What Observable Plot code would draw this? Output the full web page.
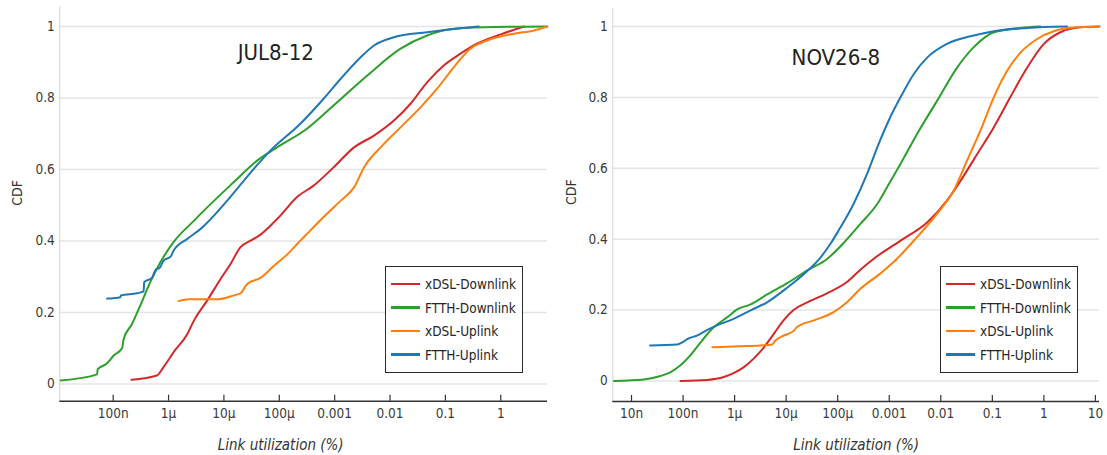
<!DOCTYPE html>
<html>
<head>
<meta charset="utf-8">
<script src="https://cdn.jsdelivr.net/npm/d3@7"></script>
<script src="https://cdn.jsdelivr.net/npm/@observablehq/plot@0.6"></script>
<style>
  body { margin: 0; background: #fff; }
  #wrap { position: relative; width: 1107px; height: 455px; overflow: hidden;
          font-family: "DejaVu Sans Condensed", "DejaVu Sans", sans-serif; font-stretch: condensed; }
  .panel { position: absolute; top: 0; }
  .legend { position: absolute; top: 266px; width: 138px; height: 107px; box-sizing: border-box;
            border: 1.5px solid #2a2a2a; background: #fff; }
  .legend .row { position: absolute; left: 5px; display: flex; align-items: center;
                 transform: translateY(-50%); font-size: 13.5px; color: #262626; white-space: nowrap; }
  .legend .swatch { display: inline-block; width: 29px; height: 2.5px; margin-right: 5px; }
</style>
</head>
<body>
<div id="wrap"></div>
<script>
// Series names and colours (legend order)
const seriesNames = ["xDSL-Downlink", "FTTH-Downlink", "xDSL-Uplink", "FTTH-Uplink"];
const seriesColors = ["#d62728", "#2ca02c", "#ff7f0e", "#1f77b4"];

// Axis ticks
const yTicks = [0, 0.2, 0.4, 0.6, 0.8, 1];
const yTickLabels = ["0", "0.2", "0.4", "0.6", "0.8", "1"];
const julTicks = [1e-7, 1e-6, 1e-5, 1e-4, 1e-3, 1e-2, 1e-1, 1];
const julTickLabels = ["100n", "1μ", "10μ", "100μ", "0.001", "0.01", "0.1", "1"];
const novTicks = [1e-8, 1e-7, 1e-6, 1e-5, 1e-4, 1e-3, 1e-2, 1e-1, 1, 10];
const novTickLabels = ["10n", "100n", "1μ", "10μ", "100μ", "0.001", "0.01", "0.1", "1", "10"];

// x extents, as log10 of link utilisation (%)
const julDomainLog = [-7.964, 0.844];
const novDomainLog = [-8.363, 1.079];

// JUL8-12: CDF points, x stored as log10 of link utilisation (%)
const julXdslDownLog = [-6.67,-6.21,-6.10,-5.97,-5.91,-5.66,-5.54,-5.30,-5.06,-4.88,-4.70,-4.52,-4.34,-4.16,-3.98,-3.68,-3.38,-3.02,-2.65,-2.29,-1.93,-1.63,-1.33,-1.03,-0.73,-0.43,0.0,0.42];
const julXdslDownCdf = [0.012,0.024,0.045,0.075,0.089,0.140,0.178,0.234,0.294,0.336,0.383,0.401,0.418,0.443,0.471,0.523,0.555,0.606,0.662,0.695,0.737,0.784,0.844,0.891,0.924,0.952,0.978,1.0];

const julFtthDownLog = [-7.95,-7.29,-7.28,-7.11,-6.99,-6.84,-6.81,-6.66,-6.51,-6.33,-6.15,-5.91,-5.54,-5.42,-4.82,-4.40,-4.04,-3.50,-3.02,-2.41,-1.81,-1.33,-0.97,-0.31,0.84];
const julFtthDownCdf = [0.010,0.027,0.041,0.058,0.080,0.100,0.126,0.168,0.220,0.285,0.340,0.397,0.457,0.476,0.565,0.625,0.662,0.714,0.779,0.863,0.938,0.975,0.991,0.998,1.0];

const julXdslUpLog = [-5.82,-5.63,-5.12,-4.82,-4.70,-4.58,-4.34,-4.10,-3.86,-3.62,-3.50,-3.20,-2.89,-2.65,-2.47,-2.14,-1.81,-1.45,-1.15,-0.85,-0.55,-0.25,0.24,0.60,0.84];
const julXdslUpCdf = [0.232,0.237,0.237,0.248,0.254,0.280,0.297,0.330,0.362,0.401,0.420,0.467,0.513,0.550,0.606,0.667,0.718,0.774,0.826,0.886,0.938,0.961,0.980,0.989,1.0];

const julFtthUpLog = [-7.11,-6.87,-6.86,-6.57,-6.45,-6.44,-6.30,-6.24,-6.15,-6.09,-5.96,-5.91,-5.66,-5.42,-4.94,-4.46,-4.16,-3.62,-3.20,-2.89,-2.53,-2.29,-1.93,-1.33,-0.97,-0.40];
const julFtthUpCdf = [0.239,0.243,0.248,0.254,0.259,0.285,0.297,0.318,0.327,0.345,0.357,0.373,0.406,0.434,0.513,0.602,0.653,0.728,0.798,0.854,0.914,0.947,0.970,0.984,0.991,1.0];

// NOV26-8
const novXdslDownLog = [-7.05,-6.53,-6.21,-6.02,-5.82,-5.63,-5.43,-5.24,-5.05,-4.85,-4.59,-4.20,-3.82,-3.56,-3.30,-2.78,-2.26,-1.88,-1.55,-1.29,-0.97,-0.65,-0.32,0.0,0.32,0.71,1.08];
const novXdslDownCdf = [0.0,0.003,0.011,0.022,0.039,0.063,0.095,0.133,0.171,0.201,0.222,0.248,0.279,0.314,0.345,0.396,0.448,0.509,0.580,0.641,0.716,0.801,0.885,0.951,0.984,0.998,1.0];

const novFtthDownLog = [-8.34,-7.76,-7.44,-7.24,-7.05,-6.86,-6.66,-6.40,-6.14,-5.95,-5.69,-5.37,-4.98,-4.59,-4.20,-3.90,-3.56,-3.23,-3.04,-2.78,-2.46,-2.07,-1.68,-1.36,-0.97,-0.45,-0.07];
const novFtthDownCdf = [0.0,0.004,0.014,0.025,0.044,0.072,0.109,0.152,0.180,0.202,0.216,0.244,0.276,0.312,0.345,0.387,0.443,0.500,0.547,0.613,0.697,0.791,0.885,0.942,0.984,0.996,1.0];

const novXdslUpLog = [-6.43,-5.89,-5.50,-5.27,-5.21,-5.08,-4.85,-4.79,-4.46,-4.08,-3.82,-3.56,-3.20,-2.85,-2.46,-2.07,-1.75,-1.49,-1.23,-0.97,-0.71,-0.45,-0.13,0.19,0.65,1.07];
const novXdslUpCdf = [0.095,0.098,0.100,0.103,0.114,0.126,0.142,0.152,0.171,0.194,0.222,0.260,0.300,0.345,0.406,0.472,0.537,0.622,0.707,0.801,0.876,0.927,0.965,0.987,0.998,1.0];

const novFtthUpLog = [-7.64,-7.11,-6.99,-6.91,-6.73,-6.53,-6.34,-6.02,-5.69,-5.37,-4.98,-4.59,-4.33,-4.14,-3.98,-3.69,-3.43,-3.23,-3.01,-2.78,-2.52,-2.26,-1.88,-1.36,-0.97,-0.32,0.45];
const novFtthUpCdf = [0.100,0.103,0.111,0.119,0.128,0.144,0.157,0.175,0.199,0.222,0.263,0.310,0.349,0.387,0.425,0.500,0.584,0.660,0.735,0.801,0.867,0.913,0.951,0.975,0.987,0.996,1.0];

const FONT = "'DejaVu Sans Condensed', 'DejaVu Sans', sans-serif";

function toRows(pairs) {
  return pairs.flatMap(([name, logs, cdf]) =>
    logs.map((lx, i) => ({ name, x: Math.pow(10, lx), y: cdf[i] })));
}

function panel(cfg) {
  const H = 455;
  const plotH = H - cfg.mt - cfg.mb;
  const xDomain = cfg.domainLog.map(v => Math.pow(10, v));
  const labelOf = new Map(cfg.ticks.map((t, i) => [t, cfg.tickLabels[i]]));
  const yLabelOf = new Map(yTicks.map((t, i) => [t, yTickLabels[i]]));
  const rows = toRows(cfg.series);
  return Plot.plot({
    width: cfg.width, height: H,
    marginLeft: cfg.ml, marginRight: cfg.mr, marginTop: cfg.mt, marginBottom: cfg.mb,
    style: { fontFamily: FONT, fontSize: "13px", color: "#3a3a3a", background: "transparent", overflow: "visible" },
    x: { type: "log", domain: xDomain, axis: null },
    y: { domain: cfg.yDomain, axis: null },
    color: { domain: seriesNames, range: seriesColors },
    marks: [
      Plot.ruleY(yTicks, { stroke: "#e4e4e4", strokeWidth: 1.6 }),
      Plot.ruleX([xDomain[0]], { stroke: "#d4d4d4", strokeWidth: 1 }),
      Plot.ruleY([cfg.yDomain[0]], { stroke: "#333", strokeWidth: 1.5 }),
      Plot.ruleX(cfg.ticks, { insetTop: plotH - 6, stroke: "#333", strokeWidth: 1.2 }),
      Plot.axisX(cfg.ticks, { tickSize: 0, tickPadding: 7, tickFormat: d => labelOf.get(d), label: null, fontSize: 13.5 }),
      Plot.axisY(yTicks, { tickSize: 0, tickPadding: 5, tickFormat: d => yLabelOf.get(d), label: null, fontSize: 13.5 }),
      Plot.line(rows, { x: "x", y: "y", z: "name", stroke: "name", strokeWidth: 2, curve: "monotone-x" }),
      Plot.text([cfg.title], { frameAnchor: "top-left", dx: cfg.titleDx, dy: cfg.titleDy, fontSize: 22, fill: "#222", lineAnchor: "middle", textAnchor: "middle" }),
      Plot.text(["Link utilization (%)"], { frameAnchor: "bottom", dx: cfg.xLabelDx, dy: 44, fontSize: 15, fontStyle: "italic", fontFamily: "'DejaVu Sans', sans-serif", fill: "#333", lineAnchor: "middle" }),
      Plot.text(["CDF"], { frameAnchor: "left", dx: cfg.yLabelDx, dy: cfg.yLabelDy, rotate: -90, fontSize: 14, fontFamily: "'DejaVu Sans', sans-serif", fill: "#333", lineAnchor: "middle" })
    ]
  });
}

function legend(left) {
  const box = document.createElement("div");
  box.className = "legend";
  box.style.left = left + "px";
  seriesNames.forEach((name, i) => {
    const row = document.createElement("div");
    row.className = "row";
    row.style.top = (17 + i * 23.5) + "px";
    const sw = document.createElement("span");
    sw.className = "swatch";
    sw.style.background = seriesColors[i];
    const tx = document.createElement("span");
    tx.textContent = name;
    row.append(sw, tx);
    box.append(row);
  });
  return box;
}

const wrap = document.getElementById("wrap");

const left = panel({
  width: 553, ml: 59.3, mr: 6, mt: 6, mb: 54.3,
  yDomain: [-0.048, 1.056],
  domainLog: julDomainLog, ticks: julTicks, tickLabels: julTickLabels,
  title: "JUL8-12", titleDx: 216, titleDy: 46,
  xLabelDx: -23, yLabelDx: -42, yLabelDy: 2,
  series: [
    [seriesNames[0], julXdslDownLog, julXdslDownCdf],
    [seriesNames[1], julFtthDownLog, julFtthDownCdf],
    [seriesNames[2], julXdslUpLog, julXdslUpCdf],
    [seriesNames[3], julFtthUpLog, julFtthUpCdf]
  ]
});
left.classList.add("panel");
left.style.left = "0px";

const right = panel({
  width: 554, ml: 59.3, mr: 8, mt: 8, mb: 54,
  yDomain: [-0.058, 1.051],
  domainLog: novDomainLog, ticks: novTicks, tickLabels: novTickLabels,
  title: "NOV26-8", titleDx: 223, titleDy: 49,
  xLabelDx: 0, yLabelDx: -41, yLabelDy: 0,
  series: [
    [seriesNames[0], novXdslDownLog, novXdslDownCdf],
    [seriesNames[1], novFtthDownLog, novFtthDownCdf],
    [seriesNames[2], novXdslUpLog, novXdslUpCdf],
    [seriesNames[3], novFtthUpLog, novFtthUpCdf]
  ]
});
right.classList.add("panel");
right.style.left = "553px";

wrap.append(left, right, legend(385), legend(940));
</script>
</body>
</html>
